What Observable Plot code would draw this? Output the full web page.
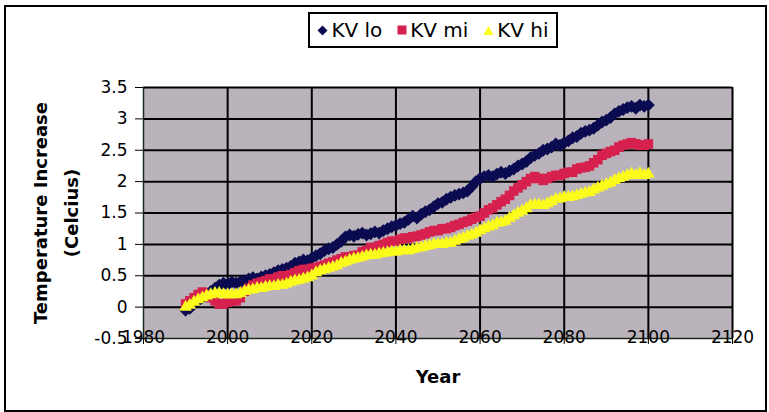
<!DOCTYPE html>
<html>
<head>
<meta charset="utf-8">
<script src="https://cdn.jsdelivr.net/npm/d3@7"></script>
<script src="https://cdn.jsdelivr.net/npm/@observablehq/plot@0.6"></script>
<style>
  html, body { margin: 0; padding: 0; background: #fff; }
  #wrap { position: relative; width: 769px; height: 412px; overflow: hidden; font-family: "DejaVu Sans", sans-serif; }
  #border { position: absolute; left: 4px; top: 5px; width: 759px; height: 403px; border: 2px solid #000; pointer-events: none; }
  #legend { position: absolute; left: 308px; top: 12px; width: 246px; height: 32px; border: 2px solid #000; background: #fff;
            display: flex; align-items: center; justify-content: space-around; font-size: 20px; color: #000; }
  .item { display: flex; align-items: center; white-space: nowrap; }
  .sym { display: inline-block; margin-right: 3px; }
  #chart { position: absolute; left: 0; top: 0; }
</style>
</head>
<body>
<div id="wrap">
  <div id="chart"></div>
  <div id="legend"></div>
  <div id="border"></div>
</div>
<script>
// ---- data ----
const years = [1990,1991,1992,1993,1994,1995,1996,1997,1998,1999,
  2000,2001,2002,2003,2004,2005,2006,2007,2008,2009,
  2010,2011,2012,2013,2014,2015,2016,2017,2018,2019,
  2020,2021,2022,2023,2024,2025,2026,2027,2028,2029,
  2030,2031,2032,2033,2034,2035,2036,2037,2038,2039,
  2040,2041,2042,2043,2044,2045,2046,2047,2048,2049,
  2050,2051,2052,2053,2054,2055,2056,2057,2058,2059,
  2060,2061,2062,2063,2064,2065,2066,2067,2068,2069,
  2070,2071,2072,2073,2074,2075,2076,2077,2078,2079,
  2080,2081,2082,2083,2084,2085,2086,2087,2088,2089,
  2090,2091,2092,2093,2094,2095,2096,2097,2098,2099,2100];

const kvLo = [-0.05,-0.02,0.05,0.10,0.15,0.20,0.25,0.30,0.35,0.38,
  0.36,0.40,0.38,0.40,0.42,0.45,0.47,0.45,0.48,0.50,
  0.52,0.55,0.58,0.60,0.62,0.65,0.70,0.72,0.75,0.74,
  0.78,0.82,0.85,0.90,0.93,0.95,1.00,1.05,1.12,1.15,
  1.13,1.16,1.18,1.15,1.17,1.20,1.18,1.22,1.25,1.28,
  1.30,1.33,1.35,1.40,1.45,1.42,1.48,1.52,1.55,1.60,
  1.65,1.67,1.72,1.75,1.78,1.80,1.82,1.85,1.92,2.00,
  2.05,2.08,2.10,2.08,2.12,2.15,2.13,2.17,2.20,2.25,
  2.28,2.32,2.38,2.42,2.45,2.50,2.52,2.55,2.60,2.58,
  2.62,2.65,2.70,2.72,2.77,2.80,2.82,2.85,2.90,2.95,
  2.98,3.02,3.08,3.12,3.15,3.18,3.20,3.17,3.22,3.20,3.22];

const kvMi = [0.05,0.10,0.15,0.20,0.24,0.20,0.15,0.10,0.05,0.05,
  0.08,0.10,0.10,0.15,0.25,0.30,0.35,0.38,0.40,0.42,
  0.45,0.45,0.48,0.50,0.50,0.52,0.55,0.58,0.60,0.60,
  0.62,0.63,0.65,0.67,0.70,0.72,0.75,0.77,0.80,0.80,
  0.82,0.83,0.88,0.90,0.95,0.95,0.98,1.00,1.03,1.05,
  1.05,1.08,1.10,1.10,1.12,1.13,1.15,1.17,1.20,1.22,
  1.22,1.25,1.25,1.27,1.30,1.32,1.35,1.37,1.40,1.43,
  1.45,1.50,1.55,1.58,1.63,1.68,1.72,1.78,1.85,1.90,
  1.95,2.00,2.05,2.08,2.05,2.02,2.05,2.08,2.10,2.10,
  2.13,2.15,2.15,2.20,2.22,2.23,2.25,2.30,2.35,2.42,
  2.45,2.48,2.50,2.55,2.58,2.60,2.62,2.60,2.58,2.58,2.60];

const kvHi = [0.00,0.03,0.08,0.12,0.15,0.18,0.20,0.22,0.22,0.20,
  0.20,0.20,0.20,0.22,0.25,0.27,0.28,0.30,0.30,0.32,
  0.33,0.33,0.35,0.35,0.37,0.40,0.42,0.43,0.45,0.47,
  0.50,0.55,0.58,0.60,0.62,0.64,0.66,0.70,0.72,0.75,
  0.77,0.78,0.80,0.82,0.83,0.83,0.85,0.86,0.87,0.88,
  0.88,0.90,0.90,0.90,0.92,0.94,0.95,0.97,0.98,1.00,
  1.00,1.00,1.02,1.02,1.05,1.08,1.10,1.13,1.15,1.18,
  1.22,1.25,1.28,1.30,1.34,1.35,1.37,1.42,1.46,1.50,
  1.53,1.57,1.62,1.63,1.63,1.62,1.65,1.68,1.72,1.73,
  1.75,1.75,1.76,1.78,1.80,1.82,1.83,1.87,1.90,1.93,
  1.96,1.98,2.02,2.05,2.07,2.10,2.12,2.10,2.13,2.10,2.12];

const seriesNames = ["KV lo", "KV mi", "KV hi"];
const xTicks = [1980, 2000, 2020, 2040, 2060, 2080, 2100, 2120];
const yTicks = [-0.5, 0, 0.5, 1, 1.5, 2, 2.5, 3, 3.5];
const yTitle = "Temperature Increase\n(Celcius)";
const xTitle = "Year";

// ---- styles ----
const colors = {"KV lo": "#0b0b52", "KV mi": "#d6204e", "KV hi": "#fbfb1c"};
const symbols = {"KV lo": "diamond2", "KV mi": "square", "KV hi": "triangle2"};
const sizes = {"KV lo": 5.8, "KV mi": 5.4, "KV hi": 6};

const rows = (name, vals) => years.map((yr, i) => ({year: yr, value: vals[i], series: name}));
const dataLo = rows("KV lo", kvLo);
const dataMi = rows("KV mi", kvMi);
const dataHi = rows("KV hi", kvHi);

const dotMark = (data, name) => Plot.dot(data, {
  x: "year", y: "value", symbol: () => symbols[name], r: sizes[name],
  fill: colors[name], stroke: "none"
});

const chart = Plot.plot({
  width: 769, height: 412,
  marginLeft: 143, marginRight: 37, marginTop: 87, marginBottom: 74,
  style: {background: "transparent", fontFamily: "DejaVu Sans, sans-serif", color: "#000", overflow: "visible"},
  x: {domain: [1980, 2120]},
  y: {domain: [-0.5, 3.5]},
  symbol: {type: "identity"},
  marks: [
    Plot.frame({fill: "#bbb3bc", stroke: "none"}),
    Plot.gridY(yTicks.filter(d => d > -0.5), {stroke: "#000", strokeOpacity: 1, strokeWidth: 2}),
    Plot.gridX(xTicks.filter(d => d > 1980), {stroke: "#000", strokeOpacity: 1, strokeWidth: 2}),
    Plot.ruleX([1980], {stroke: "#1a2a1a", strokeWidth: 1.5}),
    Plot.ruleY([-0.5], {stroke: "#1a2a1a", strokeWidth: 1.5}),
    dotMark(dataLo, "KV lo"),
    dotMark(dataMi, "KV mi"),
    dotMark(dataHi, "KV hi"),
    Plot.axisY(yTicks, {tickSize: 8, tickPadding: 8, fontSize: 17, tickFormat: d => String(d), label: null, stroke: "#000"}),
    Plot.axisX(xTicks, {tickSize: 6, tickPadding: -14, fontSize: 17, tickFormat: d => String(d), label: null, stroke: "#000"}),
    Plot.text([yTitle], {frameAnchor: "left", dx: -91, rotate: -90, fontSize: 18, fontWeight: "bold", lineHeight: 1.72, textAnchor: "middle"}),
    Plot.text([xTitle], {frameAnchor: "bottom", dy: 39, fontSize: 18, fontWeight: "bold", lineAnchor: "middle"})
  ]
});
document.getElementById("chart").appendChild(chart);

// ---- legend ----
const legend = document.getElementById("legend");
const symSvg = {
  "KV lo": `<svg class="sym" width="11" height="11" viewBox="-5.5 -5.5 11 11"><path d="M0,-5L5,0L0,5L-5,0Z" fill="${colors["KV lo"]}"/></svg>`,
  "KV mi": `<svg class="sym" width="10" height="10" viewBox="-5 -5 10 10"><rect x="-4.5" y="-4.5" width="9" height="9" fill="${colors["KV mi"]}"/></svg>`,
  "KV hi": `<svg class="sym" width="11" height="11" viewBox="-5.5 -5.5 11 11"><path d="M-5,4.5L0,-4.5L5,4.5Z" fill="${colors["KV hi"]}"/></svg>`
};
seriesNames.forEach(name => {
  const el = document.createElement("div");
  el.className = "item";
  el.innerHTML = symSvg[name] + `<span>${name}</span>`;
  legend.appendChild(el);
});
</script>
</body>
</html>
